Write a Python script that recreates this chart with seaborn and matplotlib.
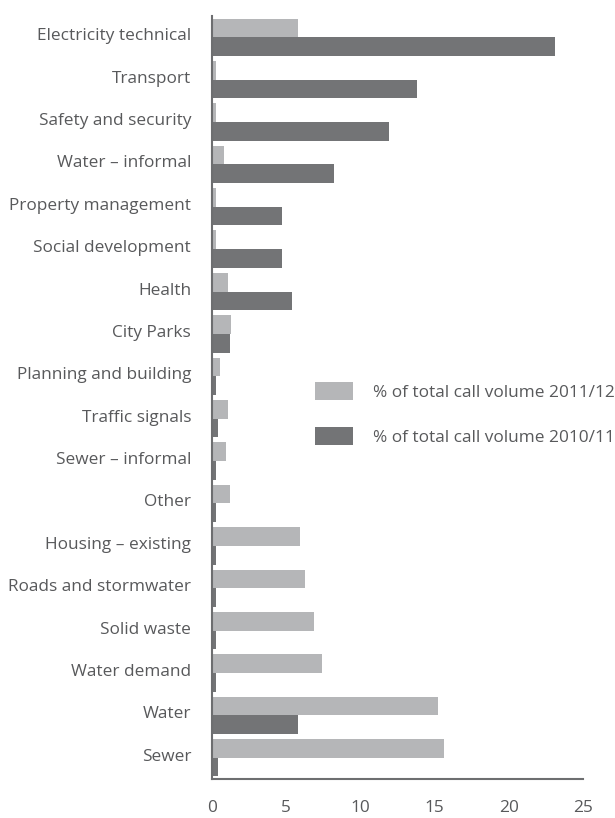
import matplotlib
matplotlib.use("Agg")
import matplotlib.pyplot as plt
import matplotlib.transforms as mtransforms
from matplotlib.patches import Patch
import seaborn as sns
import pandas as pd

categories = ["Electricity technical", "Transport", "Safety and security", "Water – informal",
              "Property management", "Social development", "Health", "City Parks",
              "Planning and building", "Traffic signals", "Sewer – informal", "Other",
              "Housing – existing", "Roads and stormwater", "Solid waste", "Water demand",
              "Water", "Sewer"]
vol_2011_12 = [5.8, 0.27, 0.27, 0.78, 0.3, 0.3, 1.1, 1.3, 0.54, 1.05, 0.92, 1.2,
               5.9, 6.3, 6.85, 7.4, 15.2, 15.6]
vol_2010_11 = [23.1, 13.8, 11.9, 8.2, 4.7, 4.7, 5.4, 1.2, 0.27, 0.38, 0.27, 0.25,
               0.25, 0.25, 0.27, 0.27, 5.77, 0.4]
series = ["% of total call volume 2011/12", "% of total call volume 2010/11"]
xticks = [0, 5, 10, 15, 20, 25]

light = "#b5b6b8"
dark = "#737476"
axis_col = "#6d6e70"
text_col = "#58595b"
fs = 12.4

df = pd.DataFrame({
    "category": categories * 2,
    "value": vol_2011_12 + vol_2010_11,
    "series": [series[0]] * len(categories) + [series[1]] * len(categories),
})

sns.set_style("white")
plt.rcParams["font.family"] = ["Open Sans", "DejaVu Sans"]

fig = plt.figure(figsize=(6.15, 8.18), dpi=100)
ax = fig.add_axes([212 / 615, 1 - 779 / 818, (583 - 212) / 615, (779 - 16) / 818])

sns.barplot(data=df, y="category", x="value", hue="series", hue_order=series,
            order=categories, palette=[light, dark], orient="h", width=0.88,
            saturation=1, legend=False, ax=ax, linewidth=0)

ax.set_xlim(0, 25)
ax.set_ylim(len(categories) - 0.5, -0.5)
ax.set_xlabel("")
ax.set_ylabel("")
ax.set_xticks(xticks)
ax.set_xticklabels([str(t) for t in xticks])
ax.set_xticks([0], minor=True)
ax.set_yticks([i - 0.5 for i in range(len(categories) + 1)], minor=True)
ax.tick_params(axis="x", which="major", length=0, pad=15, labelsize=fs, labelcolor=text_col)
ax.tick_params(axis="x", which="minor", length=7, width=1.5, color=axis_col, direction="out")
ax.tick_params(axis="y", which="major", length=0, pad=15, labelsize=fs, labelcolor=text_col)
ax.tick_params(axis="y", which="minor", length=7, width=1.5, color=axis_col, direction="out")

offset = mtransforms.ScaledTranslation(0, 3 / 100, fig.dpi_scale_trans)
for lab in ax.get_yticklabels():
    lab.set_transform(lab.get_transform() + offset)

for s in ["top", "right"]:
    ax.spines[s].set_visible(False)
for s in ["left", "bottom"]:
    ax.spines[s].set_color(axis_col)
    ax.spines[s].set_linewidth(1.5)

handles = [Patch(facecolor=light, edgecolor="none"), Patch(facecolor=dark, edgecolor="none")]
ax.legend(handles, series, loc="upper left", bbox_to_anchor=(315 / 615, 1 - 382 / 818),
          bbox_transform=fig.transFigure, frameon=False, borderpad=0, borderaxespad=0,
          handlelength=2.2, handleheight=1.27, labelspacing=1.5, handletextpad=1.15,
          fontsize=fs, labelcolor=text_col)

fig.savefig("out.png", dpi=100)
